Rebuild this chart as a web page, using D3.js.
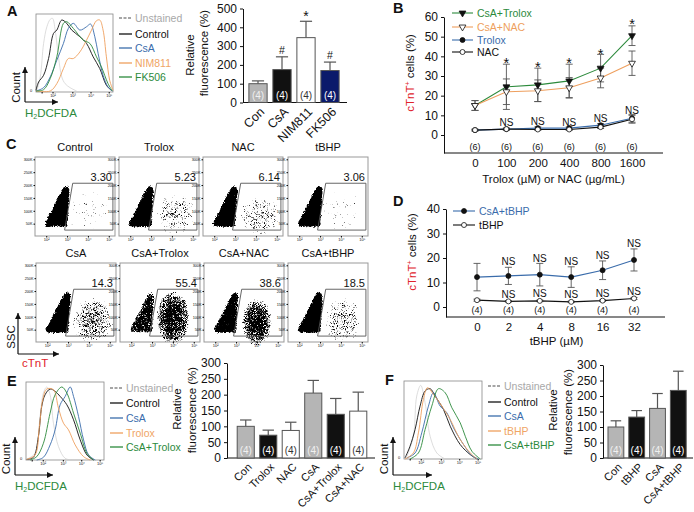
<!DOCTYPE html>
<html>
<head>
<meta charset="utf-8">
<style>
  body { margin: 0; background: #fff; }
  svg { display: block; }
  text { font-family: "Liberation Sans", Arial, sans-serif; fill: #111; }
</style>
</head>
<body>
<div id="chart"></div>
<script src="https://d3js.org/d3.v7.min.js"></script>
<script>
// colours
const BLACK = "#111", BLUE = "#3a6cab", ORANGE = "#ee9f5e", GREEN = "#2c8a3c", GREY = "#cfcfcf", RED = "#e0232b";
const BAR_GREY = "#b5b5b5", NAVY = "#0b1a6b";

// panel A
const aBars = ["Con", "CsA", "NIM811", "FK506"];
const aMeans = [100, 175, 345, 170];
const aTops = [115, 243, 432, 215];
const aN = ["(4)", "(4)", "(4)", "(4)"];
const aMarks = ["", "#", "*", "#"];
const aLegend = ["Unstained", "Control", "CsA", "NIM811", "FK506"];
// histogram curves: [channel, count]
const aUnstained = [[3,5],[13,45],[23,145],[33,195],[43,217],[50,220],[58,185],[68,105],[78,45],[88,25],[103,13],[123,3]];
const aControl = [[0,5],[8,30],[23,50],[38,100],[53,175],[63,185],[78,215],[93,205],[108,185],[133,165],[153,145],[173,105],[193,70],[213,20],[228,5]];
const aCsA = [[0,3],[23,13],[43,45],[63,95],[83,145],[98,190],[113,205],[133,185],[153,195],[165,203],[178,165],[188,115],[203,50],[218,15],[231,3]];
const aNim = [[0,3],[43,3],[63,25],[83,70],[98,100],[113,100],[133,120],[153,155],[168,185],[183,213],[193,215],[203,185],[213,105],[223,35],[233,5]];
const aFk = [[0,3],[23,7],[43,40],[63,105],[83,205],[93,210],[113,190],[143,155],[163,145],[183,105],[198,75],[218,25],[231,3]];

// panel B
const bDoses = ["0", "100", "200", "400", "800", "1600"];
const bCsaTrolox = [15, 24.5, 25.5, 27.5, 34, 50.5];
const bCsaTroloxErr = [2.5, 11.5, 8.5, 8.5, 7, 5];
const bCsaNac = [15, 22, 22.5, 24, 29, 36.5];
const bCsaNacErr = [2.5, 6.5, 5.5, 5.2, 5, 6.2];
const bTrolox = [2.5, 3, 3.5, 3.5, 5, 8.5];
const bTroloxErr = [0.4, 0.5, 0.6, 0.6, 0.8, 2];
const bNac = [2.5, 3, 2.8, 2.8, 4, 8];
const bNacErr = [0.4, 0.5, 0.5, 0.5, 0.7, 2];
const bStarAt = [null, 38, 36, 38, 42.5, 57.5];
const bNsAt = [null, 6.5, 7, 6.5, 8.5, 12.5];
const bN = ["(6)", "(6)", "(6)", "(6)", "(6)", "(6)"];

// panel C: gated percentages and the estimated place of each cell population
const cTitles = ["Control", "Trolox", "NAC", "tBHP", "CsA", "CsA+Trolox", "CsA+NAC", "CsA+tBHP"];
const cGated = ["3.30", "5.23", "6.14", "3.06", "14.3", "55.4", "38.6", "18.5"];
const cGate = [[3.27, 207], [5.2, 207], [5.2, 25], [2.88, 25]];
const cNegative = [[1.95, 36], [1.9, 52], [2.25, 104], [2.62, 165], [2.86, 197], [3.03, 199], [3.15, 183], [3.1, 130], [3.03, 36]];
// [centre decade, centre SSC (K), radius decade, radius SSC (K), density]
const cPositive = [
  [4.0, 100, 1.3, 105, 0.40], [4.2, 85, 1.1, 90, 0.53], [4.2, 78, 1.1, 85, 0.54], [4.0, 95, 1.3, 105, 0.40],
  [4.2, 85, 1.05, 95, 0.62], [4.0, 95, 0.85, 110, 0.80], [4.0, 78, 0.75, 95, 0.80], [4.1, 85, 1.0, 95, 0.56]
];
const cNegDensity = [1, 1, 1, 1, 1, 0.76, 0.9, 1];
const cHaloDensity = [0.55, 0.55, 0.55, 0.55, 0.55, 0.6, 0.6, 0.55];
const cSscTicks = [50, 100, 150, 200, 250, 300];
const cDecadeTicks = [2, 3, 4, 5];

// panel D
const dDoses = ["0", "2", "4", "8", "16", "32"];
const dCsaTbhp = [12.2, 12.7, 13.2, 12.2, 15, 19.2];
const dCsaTbhpErr = [5.6, 3.5, 4.6, 4.2, 3.8, 4.5];
const dTbhp = [2.8, 2.3, 2.5, 2.1, 2.6, 3.5];
const dTbhpErr = [0.4, 0.3, 0.3, 0.3, 0.3, 0.4];
const dNsHigh = [null, 18.4, 20, 18.4, 21.2, 26.1];
const dNsLow = [null, 5.3, 5.7, 4.9, 5.7, 6.5];
const dN = ["(4)", "(4)", "(4)", "(4)", "(4)", "(4)"];

// panel E
const eBars = ["Con", "Trolox", "NAC", "CsA", "CsA+Trolox", "CsA+NAC"];
const eMeans = [100, 72, 87, 205, 138, 148];
const eTops = [120, 88, 113, 245, 188, 208];
const eN = ["(4)", "(4)", "(4)", "(4)", "(4)", "(4)"];
const eLegend = ["Unstained", "Control", "CsA", "Trolox", "CsA+Trolox"];
const eUnstained = [[7,5],[27,20],[42,130],[52,200],[62,218],[72,195],[82,110],[97,40],[117,5],[137,0]];
const eControl = [[2,2],[22,8],[37,70],[47,160],[57,195],[72,212],[87,205],[102,190],[122,165],[142,120],[162,60],[182,15],[202,0]];
const eCsA = [[32,0],[52,8],[72,45],[87,90],[102,165],[117,190],[132,218],[142,190],[157,130],[172,60],[187,15],[207,0]];
const eTrolox = [[2,2],[27,15],[40,100],[50,180],[62,212],[82,210],[97,155],[112,110],[127,90],[147,45],[172,10],[192,0]];
const eCsaTrolox = [[12,0],[32,10],[52,50],[72,140],[87,195],[107,218],[122,200],[142,140],[162,80],[182,20],[202,0]];

// panel F
const fBars = ["Con", "tBHP", "CsA", "CsA+tBHP"];
const fMeans = [100, 132, 160, 218];
const fTops = [120, 153, 208, 280];
const fN = ["(4)", "(4)", "(4)", "(4)"];
const fLegend = ["Unstained", "Control", "CsA", "tBHP", "CsA+tBHP"];
const fUnstained = [[8,6],[28,68],[38,188],[50,220],[63,168],[78,68],[98,18],[123,0]];
const fControl = [[3,3],[18,38],[33,88],[48,158],[63,203],[78,210],[93,188],[118,148],[138,98],[168,43],[198,13],[218,0]];
const fCsA = [[8,3],[33,18],[53,78],[73,158],[88,198],[108,158],[128,138],[148,93],[178,43],[203,10],[223,0]];
const fTbhp = [[3,0],[28,18],[43,78],[58,178],[70,213],[88,193],[113,158],[138,118],[168,58],[198,18],[218,0]];
const fCsaTbhp = [[18,0],[43,18],[63,88],[83,158],[103,210],[123,198],[143,153],[168,108],[183,68],[203,23],[228,0]];

const histTicks = [17, 50, 110, 165, 220];
const histTickLabels = ["", "10²", "10³", "10⁴", "10⁵"];

const svg = d3.select("#chart").append("svg").attr("width", 694).attr("height", 512);

// speckle texture for the flow cytometry clouds, denser where the fill is more opaque
const defs = svg.append("defs");
function stippleFilter(id, blur, seed) {
  const filter = defs.append("filter").attr("id", id)
    .attr("x", "-50%").attr("y", "-50%").attr("width", "200%").attr("height", "200%")
    .attr("color-interpolation-filters", "sRGB");
  filter.append("feGaussianBlur").attr("in", "SourceAlpha").attr("stdDeviation", blur).attr("result", "b");
  filter.append("feTurbulence").attr("type", "fractalNoise").attr("baseFrequency", 2.1).attr("numOctaves", 1).attr("seed", seed).attr("result", "n");
  filter.append("feColorMatrix").attr("in", "n").attr("type", "matrix")
    .attr("values", "0 0 0 0 0  0 0 0 0 0  0 0 0 0 0  1 0 0 0 0").attr("result", "na");
  filter.append("feComposite").attr("in", "na").attr("in2", "b").attr("operator", "arithmetic")
    .attr("k1", 0).attr("k2", 1).attr("k3", 1).attr("k4", -1).attr("result", "s");
  const fct = filter.append("feComponentTransfer").attr("in", "s").attr("result", "dots");
  fct.append("feFuncA").attr("type", "linear").attr("slope", 6).attr("intercept", -0.3);
  filter.append("feGaussianBlur").attr("in", "dots").attr("stdDeviation", 0.3);
}
stippleFilter("stipple", 1.6, 4);
stippleFilter("stippleWide", 4, 9);

const cloud = defs.append("radialGradient").attr("id", "cloud");
cloud.append("stop").attr("offset", "0%").attr("stop-color", BLACK).attr("stop-opacity", 1);
cloud.append("stop").attr("offset", "60%").attr("stop-color", BLACK).attr("stop-opacity", 0.9);
cloud.append("stop").attr("offset", "100%").attr("stop-color", BLACK).attr("stop-opacity", 0.6);

function label(x, y, str, size, opts) {
  opts = opts || {};
  const t = svg.append("text")
    .attr("transform", `translate(${x},${y}) rotate(${opts.rotate || 0})`)
    .attr("text-anchor", opts.anchor || "middle")
    .attr("dominant-baseline", "central")
    .attr("font-size", size)
    .attr("font-weight", opts.weight || "normal")
    .style("fill", opts.color || BLACK)
    .text(str);
  return t;
}

function arrow(x1, y1, x2, y2) {
  svg.append("line").attr("x1", x1).attr("y1", y1).attr("x2", x2).attr("y2", y2)
    .attr("stroke", BLACK).attr("stroke-width", 1.2);
  const a = Math.atan2(y2 - y1, x2 - x1) * 180 / Math.PI;
  svg.append("path").attr("d", "M0,0L-6,-3L-6,3Z").attr("fill", BLACK)
    .attr("transform", `translate(${x2},${y2}) rotate(${a})`);
}

function histogram(box, curves, names, colors, legendBox, axisBox) {
  const x = d3.scaleLinear().domain([0, 233]).range([box.x0, box.x1]);
  const y = d3.scaleLinear().domain([0, 233]).range([box.y1, box.y0]);
  const line = d3.line().x(d => x(d[0])).y(d => y(d[1])).curve(d3.curveCatmullRom);

  svg.append("rect").attr("x", box.x0).attr("y", box.y0)
    .attr("width", box.x1 - box.x0).attr("height", box.y1 - box.y0)
    .attr("fill", "none").attr("stroke", "#888").attr("stroke-width", 0.8);

  curves.forEach((c, i) => {
    svg.append("path").datum(c).attr("d", line).attr("fill", "none")
      .attr("stroke", colors[i]).attr("stroke-width", i == 0 ? 0.7 : 0.9);
  });

  const g = svg.append("g").attr("transform", `translate(0,${box.y1})`)
    .call(d3.axisBottom(x).tickValues(histTicks).tickSize(1.5).tickPadding(1)
      .tickFormat((d, i) => histTickLabels[i]));
  g.select(".domain").remove();
  g.selectAll("text").attr("font-size", 4);
  label(box.x0 - 5, box.y1 - 2, "0", 4);

  names.forEach((n, i) => {
    const ly = legendBox.y[i];
    svg.append("line").attr("x1", legendBox.x0).attr("x2", legendBox.x1).attr("y1", ly).attr("y2", ly)
      .attr("stroke", i == 0 ? "#888" : colors[i]).attr("stroke-width", 1.3)
      .attr("stroke-dasharray", i == 0 ? "3,1.5" : null);
    const textColor = i == 0 ? "#a8a8a8" : (i == 3 ? "#f0a565" : colors[i]);
    label(legendBox.x1 + 3, ly, n, 10.5, { anchor: "start", color: textColor });
  });

  arrow(axisBox.x, axisBox.y1, axisBox.x, axisBox.y0);
  arrow(axisBox.x, axisBox.y1, axisBox.x1, axisBox.y1);
  label(axisBox.x - 9, (axisBox.y0 + axisBox.y1) / 2 + 3, "Count", 11.5, { rotate: -90 });

  const h2 = label(axisBox.x, axisBox.y1 + 11, "H", 11.5, { anchor: "start", color: GREEN });
  h2.append("tspan").attr("font-size", 7).attr("dy", 3).text("2");
  h2.append("tspan").attr("dy", -3).text("DCFDA");
}

function barPanel(box, names, means, tops, ns, fills, marks, yMax, yStep, labelBox) {
  const y = d3.scaleLinear().domain([0, yMax]).range([box.y0, box.yTop]);
  const x = d3.scaleBand().domain(names).range([box.first, box.first + box.step * names.length]).paddingInner(0.24).paddingOuter(0.12);

  const gy = svg.append("g").attr("transform", `translate(${box.x0},0)`)
    .call(d3.axisLeft(y).tickValues(d3.range(0, yMax + 1, yStep)).tickSize(3).tickPadding(3).tickSizeOuter(0));
  gy.selectAll("text").attr("font-size", 12).style("fill", BLACK);
  gy.selectAll("line,path").attr("stroke", BLACK);

  const gx = svg.append("g").attr("transform", `translate(0,${box.y0})`)
    .call(d3.axisBottom(x).tickSize(0).tickPadding(0));
  gx.select(".domain").remove();
  gx.selectAll("text").attr("font-size", box.tickFont)
    .attr("text-anchor", "end").attr("x", 0).attr("y", 0).attr("dy", "0.35em")
    .attr("transform", "translate(4,7) rotate(-45)")
    .style("fill", BLACK);
  svg.append("line").attr("x1", box.x0).attr("x2", box.x1).attr("y1", box.y0).attr("y2", box.y0)
    .attr("stroke", BLACK).attr("stroke-width", 1);

  const mark = svg.append("g");
  names.forEach((n, i) => {
    const cx = x(n) + x.bandwidth() / 2;
    mark.append("line").attr("x1", cx).attr("x2", cx).attr("y1", y(means[i])).attr("y2", y(tops[i]))
      .attr("stroke", "#555").attr("stroke-width", 1.2);
    mark.append("line").attr("x1", cx - x.bandwidth() / 3).attr("x2", cx + x.bandwidth() / 3)
      .attr("y1", y(tops[i])).attr("y2", y(tops[i])).attr("stroke", "#555").attr("stroke-width", 1.2);
  });
  mark.selectAll("rect").data(names).enter().append("rect")
    .attr("x", d => x(d)).attr("width", x.bandwidth())
    .attr("y", (d, i) => y(means[i])).attr("height", (d, i) => box.y0 - y(means[i]))
    .attr("fill", (d, i) => fills[i]).attr("stroke", "#555").attr("stroke-width", 1);

  names.forEach((n, i) => {
    const cx = x(n) + x.bandwidth() / 2;
    const inner = fills[i] == "#fff" ? "#333" : (fills[i] == BAR_GREY ? "#f0f0f0" : "#fff");
    label(cx, box.y0 - 7.5, ns[i], 10, { color: inner });
    if (marks[i] == "*") label(cx, y(tops[i]) - 5, marks[i], 14);
    else if (marks[i]) label(cx, y(tops[i]) - 7, marks[i], 10.5);
  });

  label(labelBox.x0, labelBox.y0, "Relative", 11.5, { rotate: -90 });
  label(labelBox.x1, labelBox.y1, "fluorescence (%)", 11.5, { rotate: -90 });
}

function linePanel(box, doses, series, title, titleY) {
  const x = d3.scalePoint().domain(doses).range([box.first, box.last]);
  const y = d3.scaleLinear().domain(box.domain).range([box.y1, box.y0]);

  const gy = svg.append("g").attr("transform", `translate(${box.x0},0)`)
    .call(d3.axisLeft(y).tickValues(box.ticks).tickSize(3).tickPadding(3).tickSizeOuter(0));
  gy.selectAll("text").attr("font-size", 12).style("fill", BLACK);
  gy.selectAll("line,path").attr("stroke", BLACK);

  const gx = svg.append("g").attr("transform", `translate(0,${box.y1})`)
    .call(d3.axisBottom(x).tickSize(0).tickPadding(6));
  gx.select(".domain").remove();
  gx.selectAll("text").attr("font-size", 11.5).style("fill", BLACK);
  svg.append("line").attr("x1", box.x0).attr("x2", box.x1).attr("y1", box.y1).attr("y2", box.y1)
    .attr("stroke", BLACK).attr("stroke-width", 1);

  const line = d3.line().x((d, i) => x(doses[i])).y(d => y(d));
  series.forEach(s => {
    s.values.forEach((v, i) => {
      const cx = x(doses[i]);
      [[cx, cx, y(v - s.err[i]), y(v + s.err[i])],
       [cx - 3.5, cx + 3.5, y(v + s.err[i]), y(v + s.err[i])],
       [cx - 3.5, cx + 3.5, y(v - s.err[i]), y(v - s.err[i])]].forEach(l => {
        svg.append("line").attr("x1", l[0]).attr("x2", l[1]).attr("y1", l[2]).attr("y2", l[3])
          .attr("stroke", "#555").attr("stroke-width", 0.9);
      });
    });
  });
  series.forEach(s => {
    svg.append("path").datum(s.values).attr("d", line).attr("fill", "none")
      .attr("stroke", s.color).attr("stroke-width", 1.1);
    s.values.forEach((v, i) => drawMarker(x(doses[i]), y(v), s.marker));
  });

  svg.append("text").attr("x", (box.first + box.last) / 2 + (box.titleShift || 0)).attr("y", titleY)
    .attr("text-anchor", "middle").attr("dominant-baseline", "central").attr("font-size", 11.5).text(title);

  const yl = label(box.x0 - 34, (box.y0 + box.yLabelEnd) / 2, "cTnT", 11.5, { rotate: -90, color: RED });
  yl.append("tspan").attr("font-size", 7).attr("dy", -3).text("+");
  yl.append("tspan").attr("dy", 3).style("fill", BLACK).text(" cells (%)");

  return { x, y };
}

function drawMarker(cx, cy, kind) {
  if (kind == "down" || kind == "downOpen") {
    const t = d3.symbol().type(d3.symbolTriangle).size(20)();
    svg.append("path").attr("d", t).attr("transform", `translate(${cx},${cy}) rotate(180)`)
      .attr("fill", kind == "down" ? BLACK : "#fff").attr("stroke", BLACK).attr("stroke-width", 0.8);
  } else {
    svg.append("circle").attr("cx", cx).attr("cy", cy).attr("r", 2.5)
      .attr("fill", kind == "dot" ? BLACK : "#fff").attr("stroke", BLACK).attr("stroke-width", 0.8);
  }
}

function lineLegend(x0, x1, ys, names, colors, markers) {
  names.forEach((n, i) => {
    svg.append("line").attr("x1", x0).attr("x2", x1).attr("y1", ys[i]).attr("y2", ys[i])
      .attr("stroke", colors[i]).attr("stroke-width", 1.1);
    drawMarker((x0 + x1) / 2, ys[i], markers[i]);
    label(x1 + 4, ys[i], n, 10.5, { anchor: "start", color: colors[i] });
  });
}

// ---------- A ----------
label(7, 11, "A", 14.5, { weight: "bold", anchor: "start" });
histogram({ x0: 36, x1: 113, y0: 14, y1: 92 },
  [aUnstained, aControl, aCsA, aNim, aFk], aLegend, [GREY, BLACK, BLUE, ORANGE, GREEN],
  { x0: 119, x1: 132, y: [18, 34, 48, 63, 77] }, { x: 25, y0: 67, y1: 102, x1: 58 });
barPanel({ x0: 243, x1: 347, y0: 102.5, yTop: 8.5, first: 246, step: 24, tickFont: 12.5 },
  aBars, aMeans, aTops, aN, [BAR_GREY, BLACK, "#fff", NAVY], aMarks, 500, 100,
  { x0: 190, y0: 55, x1: 204, y1: 53 });

// ---------- B ----------
label(393, 8, "B", 14.5, { weight: "bold", anchor: "start" });
const bAxes = linePanel({ x0: 444, x1: 663, y0: 17, y1: 153, first: 475, last: 632, domain: [-9.15, 60], ticks: [0, 10, 20, 30, 40, 50, 60], yLabelEnd: 129 },
  bDoses, [
    { values: bCsaTrolox, err: bCsaTroloxErr, color: GREEN, marker: "down" },
    { values: bCsaNac, err: bCsaNacErr, color: ORANGE, marker: "downOpen" },
    { values: bTrolox, err: bTroloxErr, color: BLUE, marker: "dot" },
    { values: bNac, err: bNacErr, color: BLACK, marker: "open" }
  ], "Trolox (µM) or NAC (µg/mL)", 179);
lineLegend(452, 473, [13, 27, 40, 52], ["CsA+Trolox", "CsA+NAC", "Trolox", "NAC"], [GREEN, ORANGE, BLUE, BLACK], ["down", "downOpen", "dot", "open"]);
bDoses.forEach((d, i) => {
  const cx = bAxes.x(d);
  if (bStarAt[i] !== null) label(cx, bAxes.y(bStarAt[i]) + 2.5, "*", 14.5);
  if (bNsAt[i] !== null) label(cx, bAxes.y(bNsAt[i]), "NS", 10);
  label(cx, 147, bN[i], 9);
});

// ---------- C ----------
label(6, 144, "C", 14.5, { weight: "bold", anchor: "start" });
const cFrames = [[35, 157], [119, 157], [203, 157], [288, 157], [36, 263], [120, 263], [204, 263], [288, 263]];
cTitles.forEach((title, i) => {
  const x0 = cFrames[i][0], y0 = cFrames[i][1], w = 80, h = 79;
  const x = d3.scaleLinear().domain([1.46, 5.3]).range([x0, x0 + w]);
  const y = d3.scaleLinear().domain([2, 309]).range([y0 + h, y0]);
  const poly = d3.line().x(d => x(d[0])).y(d => y(d[1]));

  svg.append("path").datum(cNegative).attr("d", d => poly(d) + "Z").attr("fill", BLACK)
    .attr("fill-opacity", cHaloDensity[i]).attr("filter", "url(#stippleWide)");
  svg.append("path").datum(cNegative).attr("d", d => poly(d) + "Z").attr("fill", BLACK)
    .attr("fill-opacity", cNegDensity[i]).attr("filter", "url(#stipple)");
  const p = cPositive[i];
  svg.append("ellipse").attr("cx", x(p[0])).attr("cy", y(p[1]))
    .attr("rx", x(p[0] + p[2]) - x(p[0])).attr("ry", y(p[1] - p[3]) - y(p[1]))
    .attr("fill", "url(#cloud)").attr("fill-opacity", p[4]).attr("filter", "url(#stipple)");

  svg.append("rect").attr("x", x0).attr("y", y0).attr("width", w).attr("height", h)
    .attr("fill", "none").attr("stroke", "#999").attr("stroke-width", 1);
  svg.append("path").datum(cGate).attr("d", d => poly(d) + "Z").attr("fill", "none")
    .attr("stroke", "#555").attr("stroke-width", 0.9);

  const gy = svg.append("g").attr("transform", `translate(${x0},0)`)
    .call(d3.axisLeft(y).tickValues(cSscTicks).tickSize(1.5).tickPadding(1).tickFormat(d => d + "K"));
  gy.select(".domain").remove();
  gy.selectAll("text").attr("font-size", 3.8);
  const gx = svg.append("g").attr("transform", `translate(0,${y0 + h})`)
    .call(d3.axisBottom(x).tickValues(cDecadeTicks).tickSize(1.5).tickPadding(1).tickFormat(d => "10" + "⁰¹²³⁴⁵"[d]));
  gx.select(".domain").remove();
  gx.selectAll("text").attr("font-size", 4);

  label(x0 + w / 2, y0 - 10, title, 11);
  label(x0 + w - 3, y0 + 20, cGated[i], 11, { anchor: "end" });
});
arrow(18, 354, 18, 313);
arrow(18, 354, 59, 354);
label(11, 337, "SSC", 11.5, { rotate: -90 });
label(22, 363, "cTnT", 11.5, { anchor: "start", color: RED });

// ---------- D ----------
label(393, 201, "D", 14.5, { weight: "bold", anchor: "start" });
const dAxes = linePanel({ x0: 446, x1: 665, y0: 209, y1: 317, first: 477, last: 634, domain: [-4.08, 40], ticks: [0, 10, 20, 30, 40], yLabelEnd: 295, titleShift: 1 },
  dDoses, [
    { values: dCsaTbhp, err: dCsaTbhpErr, color: BLUE, marker: "dot" },
    { values: dTbhp, err: dTbhpErr, color: BLACK, marker: "open" }
  ], "tBHP (µM)", 341);
lineLegend(453, 475, [211, 225], ["CsA+tBHP", "tBHP"], [BLUE, BLACK], ["dot", "open"]);
dDoses.forEach((d, i) => {
  const cx = dAxes.x(d);
  if (dNsHigh[i] !== null) label(cx, dAxes.y(dNsHigh[i]), "NS", 10);
  if (dNsLow[i] !== null) label(cx, dAxes.y(dNsLow[i]), "NS", 10);
  label(cx, 310, dN[i], 9);
});

// ---------- E ----------
label(7, 381, "E", 14.5, { weight: "bold", anchor: "start" });
histogram({ x0: 26, x1: 104, y0: 382, y1: 460 },
  [eUnstained, eControl, eCsA, eTrolox, eCsaTrolox], eLegend, [GREY, BLACK, BLUE, ORANGE, GREEN],
  { x0: 110, x1: 123, y: [388, 403, 418, 433, 447] }, { x: 15, y0: 437, y1: 475, x1: 53 });
barPanel({ x0: 227, x1: 375, y0: 458, yTop: 363, first: 234.5, step: 22.5, tickFont: 11 },
  eBars, eMeans, eTops, eN, [BAR_GREY, BLACK, "#fff", BAR_GREY, BLACK, "#fff"], ["", "", "", "", "", ""], 300, 50,
  { x0: 177, y0: 409, x1: 192, y1: 410 });

// ---------- F ----------
label(385, 380, "F", 14.5, { weight: "bold", anchor: "start" });
histogram({ x0: 404, x1: 482, y0: 381, y1: 459 },
  [fUnstained, fControl, fCsA, fTbhp, fCsaTbhp], fLegend, [GREY, BLACK, BLUE, ORANGE, GREEN],
  { x0: 488, x1: 501, y: [386, 402, 416, 431, 445] }, { x: 393, y0: 437, y1: 475, x1: 432 });
barPanel({ x0: 603, x1: 693, y0: 458, yTop: 365, first: 605.5, step: 20.8, tickFont: 11 },
  fBars, fMeans, fTops, fN, [BAR_GREY, BLACK, BAR_GREY, BLACK], ["", "", "", ""], 300, 50,
  { x0: 553, y0: 410, x1: 568, y1: 412 });
</script>
</body>
</html>
